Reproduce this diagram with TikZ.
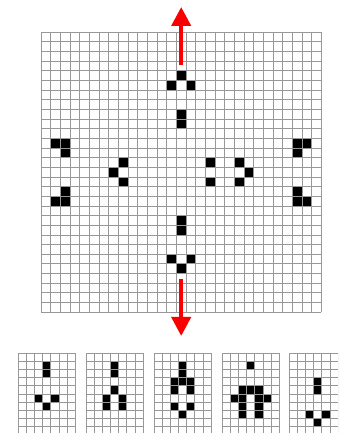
\documentclass[tikz,border=0pt]{standalone}
\usepackage{tikz}
\usetikzlibrary{arrows.meta}
\definecolor{gridgray}{RGB}{152,152,152}
\definecolor{arrowred}{RGB}{250,0,0}
\tikzset{
  cellgrid/.style={draw=gridgray, line width=1pt, step=1},
  livecell/.style={fill=black},
  movearrow/.style={draw=arrowred, line width=4pt, -{Triangle[length=19pt, width=19pt]}}
}

\begin{document}
\begin{tikzpicture}[x=1pt, y=1pt]
  \useasboundingbox (0,0) rectangle (338,433);
  \clip (0,0) rectangle (338,433);

  %% Main board, 29 x 29 cells (column / row counted from the top)
  \begin{scope}[shift={(41.3,120.7)}, x=9.66pt, y=9.66pt]
    \foreach \c/\r in {14/4, 13/5, 15/5, 14/8, 14/9,
                       1/11, 2/11, 2/12, 2/16, 1/17, 2/17,
                       26/11, 27/11, 26/12, 26/16, 26/17, 27/17,
                       8/13, 7/14, 8/15,
                       17/13, 17/15, 20/13, 21/14, 20/15,
                       14/19, 14/20, 13/23, 15/23, 14/24}
      \fill[livecell] (\c,28-\r) rectangle ++(1,1);
    \draw[cellgrid] (0,0) grid (29,29);
  \end{scope}

  %% Arrows showing where the gliders go
  \coordinate (upfrom) at (181.2,368);
  \coordinate (upto) at (181.2,426);
  \coordinate (downfrom) at (181.2,153.7);
  \coordinate (downto) at (181.2,97);
  \draw[movearrow] (upfrom) -- (upto);
  \draw[movearrow] (downfrom) -- (downto);

  %% Small boards below, 7 cells wide
  \begin{scope}[shift={(18.3,-2)}, x=8.17pt, y=8.17pt]
    \foreach \c/\r in {3/1, 3/2, 2/5, 4/5, 3/6}
      \fill[livecell] (\c,9-\r) rectangle ++(1,1);
    \draw[cellgrid] (0,0) grid (7,10);
  \end{scope}
  \begin{scope}[shift={(86,-2)}, x=8.17pt, y=8.17pt]
    \foreach \c/\r in {3/1, 3/2, 3/4, 2/5, 4/5, 2/6, 4/6}
      \fill[livecell] (\c,9-\r) rectangle ++(1,1);
    \draw[cellgrid] (0,0) grid (7,10);
  \end{scope}
  \begin{scope}[shift={(154,-2)}, x=8.17pt, y=8.17pt]
    \foreach \c/\r in {3/1, 3/2, 2/3, 3/3, 4/3, 2/4, 4/4, 2/6, 4/6, 3/7}
      \fill[livecell] (\c,9-\r) rectangle ++(1,1);
    \draw[cellgrid] (0,0) grid (7,10);
  \end{scope}
  \begin{scope}[shift={(222.3,-2)}, x=8.17pt, y=8.17pt]
    \foreach \c/\r in {3/1, 2/4, 3/4, 4/4, 1/5, 2/5, 4/5, 5/5, 2/6, 4/6, 2/7, 4/7}
      \fill[livecell] (\c,9-\r) rectangle ++(1,1);
    \draw[cellgrid] (0,0) grid (7,10);
  \end{scope}
  \begin{scope}[shift={(289.3,-2)}, x=8.17pt, y=8.17pt]
    \foreach \c/\r in {3/3, 3/4, 2/7, 4/7, 3/8}
      \fill[livecell] (\c,9-\r) rectangle ++(1,1);
    \draw[cellgrid] (0,0) grid (7,10);
  \end{scope}
\end{tikzpicture}
\end{document}
